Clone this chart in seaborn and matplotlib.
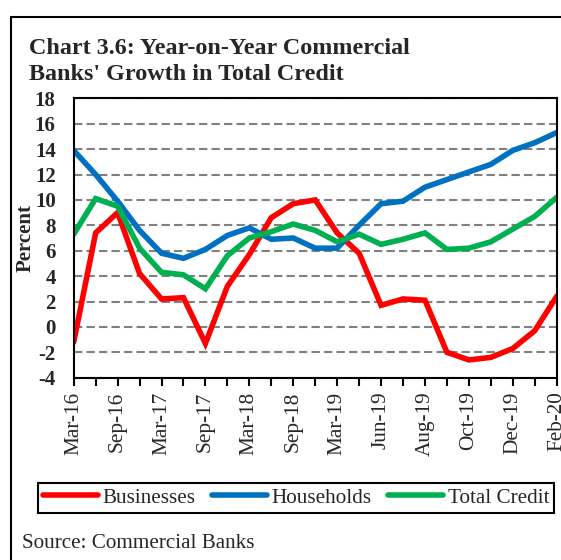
import matplotlib
matplotlib.use("Agg")
import matplotlib.pyplot as plt
from matplotlib.lines import Line2D
import seaborn as sns
import pandas as pd

categories = ["Mar-16", "Jun-16", "Sep-16", "Dec-16", "Mar-17", "Jun-17", "Sep-17",
              "Dec-17", "Mar-18", "Jun-18", "Sep-18", "Dec-18", "Mar-19", "Apr-19",
              "Jun-19", "Jul-19", "Aug-19", "Sep-19", "Oct-19", "Nov-19", "Dec-19",
              "Jan-20", "Feb-20"]
tick_labels = ["Mar-16", "Sep-16", "Mar-17", "Sep-17", "Mar-18", "Sep-18", "Mar-19",
               "Jun-19", "Aug-19", "Oct-19", "Dec-19", "Feb-20"]
businesses = [-1.2, 7.4, 9.0, 4.2, 2.2, 2.3, -1.3, 3.2, 5.7, 8.6, 9.7, 10.0, 7.4, 5.8,
              1.7, 2.2, 2.1, -2.0, -2.6, -2.4, -1.7, -0.3, 2.4]
households = [13.9, 12.0, 9.9, 7.6, 5.8, 5.4, 6.1, 7.2, 7.8, 6.9, 7.0, 6.2, 6.2, 8.0,
              9.7, 9.9, 11.0, 11.6, 12.2, 12.8, 13.9, 14.5, 15.3]
total_credit = [7.3, 10.1, 9.5, 6.2, 4.3, 4.1, 3.0, 5.6, 7.0, 7.5, 8.1, 7.6, 6.7, 7.3,
                6.5, 6.9, 7.4, 6.1, 6.2, 6.7, 7.7, 8.7, 10.2]
series_names = ["Businesses", "Households", "Total Credit"]
colors = ["#FF0000", "#0070C0", "#00B050"]

rows = []
for name, vals in zip(series_names, [businesses, households, total_credit]):
    for c, v in zip(categories, vals):
        rows.append({"Period": c, "Growth": v, "Series": name})
df = pd.DataFrame(rows)

sns.set_theme(style="white")
plt.rcParams["font.family"] = ["Liberation Serif", "DejaVu Serif"]

W, H = 561, 560
fig = plt.figure(figsize=(W / 100, H / 100), dpi=100)
ax = fig.add_axes([73.7 / W, 1 - 377.7 / H, (556.7 - 73.7) / W, (377.7 - 98.3) / H])

sns.lineplot(data=df, x="Period", y="Growth", hue="Series", hue_order=series_names,
             palette=colors, linewidth=4, sort=False, ax=ax, legend=True)
for ln in ax.get_lines():
    ln.set_solid_joinstyle("miter")

ax.set_xlim(0, len(categories) - 1)
ax.set_ylim(-4, 18)
ax.set_yticks(list(range(-4, 19, 2)))
ax.set_yticklabels([str(v) for v in range(-4, 19, 2)], fontsize=15, fontweight="bold")
ax.set_xticks(list(range(len(categories))))
xl = []
k = 0
for i in range(len(categories)):
    if i % 2 == 0:
        xl.append(tick_labels[k]); k += 1
    else:
        xl.append("")
ax.set_xticklabels(xl, rotation=90, fontsize=15.3)
ax.tick_params(axis="x", length=6, width=1.5, color="black", pad=4, direction="out", bottom=True)
ax.tick_params(axis="y", length=0, pad=13)
ax.set_xlabel("")
ax.set_ylabel("Percent", fontsize=15, fontweight="bold")
ax.yaxis.set_label_coords(-(73.7 - 35.5) / (556.7 - 73.7), 0.5)

ax.yaxis.grid(True, color="#808080", linestyle=(0, (4, 2)), linewidth=1.5)
ax.xaxis.grid(False)
ax.set_axisbelow(True)
for s in ax.spines.values():
    s.set_color("black")
    s.set_linewidth(1.5)
    s.set_visible(True)

handles, labels = ax.get_legend_handles_labels()
ax.get_legend().remove()
leg = fig.legend(handles, labels, loc="center", bbox_to_anchor=(296.2 / W, 1 - 498 / H),
                 ncol=3, frameon=True, fancybox=False, edgecolor="black", framealpha=1,
                 fontsize=15.2, handlelength=2.6, handletextpad=0.2, columnspacing=0.8,
                 borderpad=0.25)
leg.get_frame().set_linewidth(1.5)
for h in leg.get_lines():
    h.set_linewidth(4)
    h.set_solid_capstyle("round")

fig.text(29.3 / W, 1 - 54 / H, "Chart 3.6: Year-on-Year Commercial", fontsize=17.4,
         fontweight="bold", va="baseline", ha="left")
fig.text(29.3 / W, 1 - 80 / H, "Banks' Growth in Total Credit", fontsize=17.4,
         fontweight="bold", va="baseline", ha="left")
fig.text(21.7 / W, 1 - 548 / H, "Source: Commercial Banks", fontsize=15.2,
         va="baseline", ha="left")

fig.add_artist(Line2D([11 / W, 1], [1 - 17 / H, 1 - 17 / H], transform=fig.transFigure,
                      color="black", linewidth=1.5))
fig.add_artist(Line2D([11 / W, 11 / W], [1 - 17 / H, 0], transform=fig.transFigure,
                      color="black", linewidth=1.5))

fig.savefig("out.png", dpi=100)
